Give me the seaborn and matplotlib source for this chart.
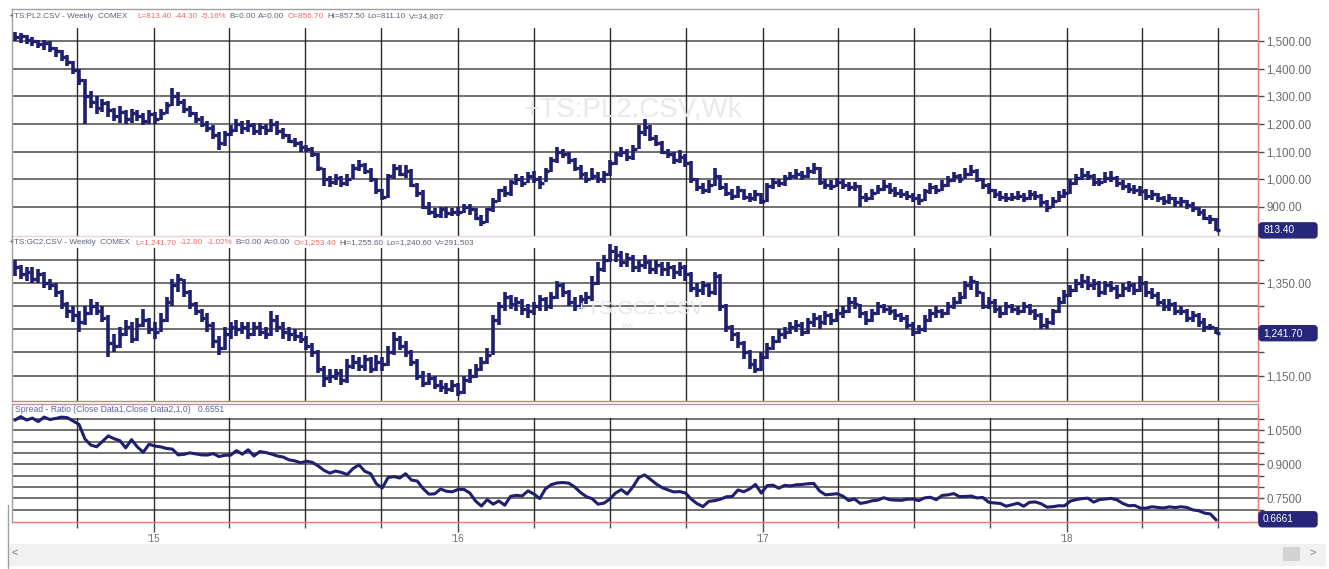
import numpy as np
import pandas as pd
import matplotlib
matplotlib.use("Agg")
import matplotlib.pyplot as plt
import matplotlib.dates as mdates
from matplotlib.patches import FancyBboxPatch, Rectangle
from matplotlib.lines import Line2D
from matplotlib.ticker import FixedLocator, FuncFormatter
import seaborn as sns

# ---------------- data (weekly bars) ----------------
first_week = "2014-07-18"

pl_close = [1515, 1520, 1505, 1500, 1490, 1495, 1475, 1465, 1445, 1425,
            1395, 1360, 1300, 1280, 1260, 1275, 1250, 1230, 1245, 1220,
            1240, 1230, 1210, 1235, 1220, 1240, 1270, 1300, 1280, 1255,
            1240, 1220, 1200, 1185, 1160, 1130, 1165, 1180, 1200, 1185,
            1195, 1175, 1190, 1180, 1200, 1175, 1160, 1140, 1130, 1115,
            1110, 1090, 1040, 1000, 990, 1005, 985, 1000, 1040, 1050,
            1030, 1000, 960, 935, 1010, 1040, 1020, 1030, 980, 950,
            900, 880, 870, 890, 875, 880, 880, 900, 890, 860,
            845, 890, 920, 960, 950, 990, 1000, 985, 1010, 1000,
            985, 1030, 1070, 1100, 1090, 1070, 1040, 1020, 1000, 1010,
            1000, 1020, 1060, 1090, 1100, 1080, 1110, 1170, 1190, 1150,
            1130, 1100, 1090, 1070, 1080, 1060, 1000, 970, 960, 980,
            1010, 970, 950, 940, 960, 935, 930, 945, 920, 975,
            990, 985, 1005, 1010, 1020, 1010, 1030, 1040, 990, 980,
            975, 990, 980, 970, 975, 935, 930, 950, 965, 975,
            960, 950, 945, 940, 930, 925, 955, 970, 960, 980,
            995, 1010, 1000, 1020, 1030, 1000, 980, 960, 945, 935,
            930, 935, 940, 930, 945, 940, 915, 900, 920, 940,
            950, 985, 1005, 1015, 1010, 990, 990, 1005, 1005, 985,
            975, 965, 960, 955, 940, 945, 930, 920, 930, 915,
            920, 905, 895, 880, 860, 855, 813.4]

pl_high = [1535, 1530, 1525, 1515, 1505, 1505, 1500, 1480, 1470, 1450,
           1430, 1400, 1365, 1320, 1300, 1290, 1285, 1260, 1265, 1250,
           1255, 1250, 1240, 1250, 1245, 1255, 1280, 1330, 1315, 1290,
           1265, 1245, 1230, 1210, 1195, 1170, 1175, 1195, 1220, 1210,
           1215, 1205, 1205, 1200, 1220, 1210, 1185, 1165, 1150, 1140,
           1125, 1115, 1095, 1040, 1010, 1020, 1010, 1020, 1055, 1070,
           1060, 1040, 1005, 965, 1020, 1055, 1050, 1050, 1035, 985,
           960, 915, 895, 900, 900, 895, 900, 910, 910, 895,
           870, 895, 930, 965, 975, 995, 1020, 1010, 1025, 1030,
           1010, 1040, 1080, 1115, 1110, 1100, 1075, 1050, 1025, 1040,
           1025, 1030, 1070, 1100, 1115, 1110, 1125, 1195, 1220, 1195,
           1160, 1140, 1110, 1100, 1105, 1090, 1065, 1005, 985, 995,
           1040, 1015, 985, 965, 975, 965, 950, 960, 950, 985,
           1005, 1000, 1015, 1025, 1035, 1030, 1045, 1060, 1045, 1000,
           995, 1005, 1000, 990, 990, 980, 950, 965, 980, 995,
           985, 970, 965, 955, 950, 945, 965, 985, 980, 995,
           1010, 1025, 1020, 1040, 1050, 1035, 1005, 985, 965, 955,
           950, 950, 955, 950, 960, 955, 945, 925, 935, 955,
           965, 1000, 1020, 1040, 1030, 1020, 1005, 1025, 1030, 1010,
           995, 985, 980, 975, 965, 960, 950, 940, 945, 935,
           935, 925, 915, 900, 890, 870, 857.5]

pl_low = [1500, 1495, 1490, 1485, 1475, 1470, 1460, 1445, 1430, 1410,
          1380, 1340, 1200, 1260, 1235, 1245, 1225, 1210, 1205, 1200,
          1205, 1210, 1195, 1200, 1200, 1215, 1235, 1265, 1265, 1240,
          1225, 1205, 1190, 1170, 1145, 1105, 1120, 1155, 1170, 1165,
          1170, 1160, 1160, 1160, 1170, 1160, 1145, 1130, 1115, 1100,
          1100, 1080, 1030, 975, 970, 980, 970, 975, 1000, 1030,
          1020, 990, 945, 925, 930, 1000, 1010, 1005, 970, 935,
          890, 870, 860, 860, 860, 865, 865, 875, 870, 850,
          830, 840, 880, 915, 935, 940, 980, 970, 985, 985,
          965, 990, 1025, 1060, 1075, 1055, 1030, 1000, 985, 995,
          985, 985, 1010, 1050, 1080, 1065, 1070, 1110, 1155, 1140,
          1120, 1090, 1075, 1055, 1060, 1045, 985, 955, 945, 950,
          975, 960, 940, 925, 930, 925, 915, 920, 910, 915,
          965, 970, 975, 995, 1000, 995, 1005, 1020, 980, 965,
          960, 970, 965, 955, 955, 900, 915, 925, 945, 955,
          945, 935, 930, 925, 915, 905, 920, 945, 945, 955,
          970, 990, 985, 1000, 1010, 990, 965, 945, 930, 920,
          915, 920, 925, 915, 925, 925, 900, 880, 895, 915,
          930, 945, 980, 995, 995, 975, 975, 985, 990, 970,
          960, 950, 945, 940, 925, 925, 915, 905, 910, 900,
          900, 890, 880, 865, 850, 835, 811.1]

gc_close = [1385, 1370, 1375, 1360, 1370, 1350, 1345, 1330, 1305, 1290,
            1280, 1265, 1285, 1300, 1290, 1275, 1220, 1215, 1240, 1255,
            1230, 1260, 1270, 1250, 1245, 1270, 1310, 1345, 1360, 1330,
            1305, 1290, 1275, 1260, 1225, 1210, 1240, 1255, 1250, 1255,
            1240, 1255, 1245, 1240, 1270, 1255, 1245, 1240, 1235, 1230,
            1215, 1200, 1165, 1145, 1150, 1155, 1140, 1170, 1180, 1170,
            1185, 1165, 1180, 1175, 1200, 1230, 1215, 1200, 1180, 1150,
            1135, 1145, 1130, 1125, 1120, 1130, 1115, 1140, 1150, 1165,
            1180, 1195, 1270, 1300, 1320, 1305, 1310, 1295, 1290, 1300,
            1315, 1300, 1320, 1345, 1330, 1310, 1300, 1315, 1320, 1350,
            1380, 1400, 1420, 1410, 1395, 1405, 1385, 1390, 1395, 1380,
            1390, 1380, 1385, 1375, 1385, 1370, 1340, 1335, 1345, 1330,
            1365, 1300, 1255, 1240, 1220, 1200, 1175, 1165, 1190, 1210,
            1225, 1240, 1245, 1255, 1260, 1245, 1265, 1275, 1265, 1280,
            1270, 1285, 1290, 1310, 1305, 1285, 1270, 1285, 1300, 1295,
            1290, 1280, 1275, 1260, 1245, 1250, 1270, 1285, 1290, 1285,
            1300, 1310, 1320, 1345, 1355, 1330, 1300, 1310, 1295, 1285,
            1300, 1295, 1290, 1300, 1290, 1280, 1260, 1265, 1290, 1310,
            1325, 1335, 1350, 1355, 1345, 1350, 1330, 1345, 1340, 1325,
            1340, 1345, 1335, 1350, 1330, 1325, 1310, 1300, 1305, 1290,
            1290, 1275, 1280, 1265, 1255, 1254.5, 1241.7]

gc_high = [1400, 1390, 1385, 1385, 1380, 1375, 1360, 1350, 1335, 1310,
           1300, 1290, 1300, 1315, 1310, 1300, 1280, 1240, 1255, 1270,
           1265, 1275, 1295, 1275, 1265, 1285, 1320, 1360, 1370, 1360,
           1335, 1310, 1295, 1285, 1265, 1235, 1255, 1265, 1270, 1265,
           1265, 1265, 1265, 1255, 1290, 1280, 1265, 1255, 1250, 1245,
           1235, 1220, 1205, 1170, 1165, 1165, 1165, 1185, 1195, 1190,
           1195, 1190, 1195, 1190, 1215, 1245, 1235, 1225, 1205, 1185,
           1160, 1155, 1150, 1140, 1135, 1140, 1135, 1150, 1165, 1175,
           1190, 1210, 1280, 1310, 1330, 1325, 1320, 1315, 1305, 1310,
           1325, 1320, 1330, 1355, 1350, 1335, 1320, 1325, 1330, 1365,
           1395, 1410, 1435, 1430, 1420, 1415, 1410, 1400, 1410, 1400,
           1400, 1395, 1395, 1390, 1395, 1390, 1375, 1350, 1355, 1350,
           1375, 1370, 1305, 1260, 1245, 1225, 1205, 1185, 1200, 1220,
           1235, 1250, 1255, 1265, 1270, 1265, 1275, 1285, 1280, 1290,
           1285, 1295, 1300, 1320, 1320, 1305, 1290, 1295, 1310, 1305,
           1300, 1295, 1285, 1280, 1265, 1260, 1280, 1295, 1300, 1295,
           1310, 1320, 1330, 1355, 1365, 1355, 1330, 1320, 1315, 1300,
           1310, 1305, 1300, 1310, 1305, 1295, 1285, 1275, 1295, 1320,
           1335, 1345, 1360, 1370, 1365, 1360, 1355, 1355, 1355, 1345,
           1350, 1355, 1350, 1365, 1355, 1340, 1330, 1315, 1315, 1310,
           1300, 1295, 1290, 1285, 1275, 1262, 1255.6]

gc_low = [1365, 1360, 1355, 1350, 1350, 1340, 1335, 1320, 1295, 1275,
          1265, 1245, 1260, 1280, 1280, 1265, 1190, 1200, 1210, 1235,
          1220, 1225, 1255, 1240, 1230, 1245, 1265, 1300, 1330, 1320,
          1295, 1280, 1265, 1245, 1210, 1195, 1205, 1230, 1235, 1240,
          1230, 1235, 1235, 1230, 1235, 1245, 1230, 1225, 1225, 1220,
          1205, 1190, 1155, 1125, 1135, 1140, 1130, 1135, 1165, 1160,
          1160, 1155, 1160, 1160, 1170, 1195, 1205, 1190, 1170, 1140,
          1125, 1130, 1120, 1115, 1110, 1115, 1105, 1110, 1135, 1145,
          1160, 1175, 1195, 1260, 1290, 1295, 1290, 1280, 1275, 1280,
          1290, 1290, 1295, 1315, 1320, 1300, 1290, 1295, 1305, 1310,
          1345, 1375, 1395, 1395, 1385, 1385, 1375, 1375, 1380, 1370,
          1370, 1365, 1365, 1360, 1365, 1355, 1330, 1320, 1325, 1320,
          1325, 1290, 1245, 1225, 1210, 1185, 1165, 1155, 1160, 1185,
          1205, 1220, 1230, 1240, 1245, 1235, 1240, 1255, 1250, 1260,
          1260, 1265, 1275, 1285, 1295, 1275, 1260, 1265, 1280, 1285,
          1280, 1270, 1265, 1250, 1235, 1240, 1245, 1265, 1275, 1275,
          1280, 1295, 1305, 1315, 1335, 1320, 1295, 1295, 1285, 1275,
          1280, 1285, 1280, 1285, 1280, 1270, 1250, 1250, 1260, 1285,
          1305, 1320, 1330, 1340, 1335, 1335, 1320, 1325, 1330, 1315,
          1320, 1330, 1325, 1330, 1320, 1315, 1300, 1290, 1290, 1280,
          1280, 1265, 1265, 1255, 1245, 1248, 1240.6]

pl_title = [("+TS:PL2.CSV - Weekly  COMEX", 9, "g"), ("L=813.40", 137, "r"),
            ("-44.30", 170, "r"), ("-5.16%", 190, "r"), ("B=0.00", 212, "g"),
            ("A=0.00", 237, "g"), ("O=856.70", 268, "r"), ("Hi=857.50", 307, "g"),
            ("Lo=811.10", 348, "g"), ("V=34,807", 388, "g")]
gc_title = [("+TS:GC2.CSV - Weekly  COMEX", 9, "g"), ("L=1,241.70", 135, "r"),
            ("-12.80", 180, "r"), ("-1.02%", 202, "r"), ("B=0.00", 225, "g"),
            ("A=0.00", 250, "g"), ("O=1,253.40", 285, "r"), ("Hi=1,255.60", 330, "g"),
            ("Lo=1,240.60", 378, "g"), ("V=291,503", 432, "g")]
spread_title = "Spread - Ratio (Close Data1,Close Data2,1,0)   0.6551"

pl_ticks = [900, 1000, 1100, 1200, 1300, 1400, 1500]
gc_grid = [1150, 1200, 1250, 1300, 1350, 1400]
gc_labels = [1150, 1350]
ratio_grid = [0.70, 0.75, 0.80, 0.85, 0.90, 0.95, 1.00, 1.05, 1.10]
ratio_labels = [0.75, 0.90, 1.05]
year_ticks = ["2015-01-01", "2016-01-01", "2017-01-01", "2018-01-01"]
year_labels = ["'15", "'16", "'17", "'18"]

# ---------------- frame ----------------
W, H = 1329, 569
sns.set_theme(style="white")
plt.rcParams["font.family"] = ["Liberation Sans", "DejaVu Sans"]

TFS = 5.9
NAVY = "#1f1f6e"
GRIDC = "#4a4a4a"
VGRID = "#2a2a2a"
RED = "#e07a7a"
TXT = "#5d6275"
TRED = "#e36a6a"

weeks = pd.date_range(first_week, periods=len(pl_close), freq="W-FRI")
xw = mdates.date2num(weeks)
ratio = np.array(pl_close) / np.array(gc_close)
df = pd.DataFrame({"week": weeks, "ratio": ratio})

fig = plt.figure(figsize=(W / 100, H / 100), dpi=100)
fig.patch.set_facecolor("white")
renderer = fig.canvas.get_renderer()


def fax(top, bot):
    return fig.add_axes([12 / W, 1 - bot / H, (1258 - 12) / W, (bot - top) / H])


ax1 = fax(9, 236)
ax2 = fax(236, 401)
ax3 = fax(404, 522)

x0 = mdates.date2num(pd.Timestamp("2015-01-01")) - 170.5
x1 = mdates.date2num(pd.Timestamp("2018-01-01")) + 229.3
quarters = mdates.date2num(pd.date_range("2014-10-01", "2018-07-01", freq="QS"))

ax1.set_ylim(793, 1618)
ax2.set_ylim(1095, 1452)
ax3.set_ylim(0.646, 1.165)

vtop = {ax1: 0.916, ax2: 0.927, ax3: 0.88}
for ax in (ax1, ax2, ax3):
    ax.set_xlim(x0, x1)
    ax.set_facecolor("white")
    for q in quarters:
        ax.axvline(q, ymin=0, ymax=vtop[ax], color=VGRID, lw=1.0, zorder=1)
    ax.yaxis.tick_right()
    ax.yaxis.set_label_position("right")
    ax.tick_params(axis="y", which="both", length=4, width=1, color=GRIDC,
                   pad=2, labelsize=8.3, labelcolor="#6a6a6a", right=True, left=False)
    ax.yaxis.grid(True, color=GRIDC, lw=1.1, zorder=1)
    ax.xaxis.grid(False)
    for s in ("left", "top"):
        ax.spines[s].set_color("#a0a0a0")
        ax.spines[s].set_linewidth(1)
    ax.spines["right"].set_color(RED)
    ax.spines["right"].set_linewidth(1)
    ax.spines["bottom"].set_color(RED)
    ax.spines["bottom"].set_linewidth(1)
ax2.spines["top"].set_visible(False)
ax1.spines["bottom"].set_color("#f0d0d0")

# y ticks
ax1.yaxis.set_major_locator(FixedLocator(pl_ticks))
ax1.yaxis.set_major_formatter(FuncFormatter(lambda v, p: f"{v:,.2f}"))
ax2.yaxis.set_major_locator(FixedLocator(gc_grid))
ax2.yaxis.set_major_formatter(FuncFormatter(
    lambda v, p: f"{v:,.2f}" if any(abs(v - l) < 1e-6 for l in gc_labels) else ""))
ax3.yaxis.set_major_locator(FixedLocator(ratio_grid))
ax3.yaxis.set_major_formatter(FuncFormatter(
    lambda v, p: f"{v:.4f}" if any(abs(v - l) < 1e-6 for l in ratio_labels) else ""))

# x ticks
for ax in (ax1, ax2):
    ax.set_xticks([])
ax3.set_xticks(mdates.date2num(pd.to_datetime(year_ticks)))
ax3.set_xticklabels(year_labels)
ax3.set_xticks(quarters, minor=True)
ax3.tick_params(axis="x", which="major", length=7, width=1, color=GRIDC, pad=2,
                labelsize=7, labelcolor="#6a6a6a", bottom=True)
ax3.tick_params(axis="x", which="minor", length=4, width=1, color=GRIDC, bottom=True)

# watermarks
fig.text(633 / W, 1 - 110 / H, "+TS:PL2.CSV,Wk", fontsize=20, color="#e9e9ed",
         ha="center", va="center", zorder=0)
fig.text(640 / W, 1 - 309 / H, "+TS:GC2.CSV", fontsize=14, color="#e6e6ea",
         ha="center", va="center", zorder=0)
fig.text(628 / W, 1 - 326 / H, "Wk", fontsize=6, color="#e6e6ea",
         ha="center", va="center", zorder=0)
for ax in (ax1, ax2, ax3):
    ax.patch.set_alpha(0)


# weekly bars: high-low line with a close tick
def bars(ax, high, low, close):
    ax.vlines(xw, low, high, color=NAVY, lw=2.6, zorder=4)
    ax.hlines(close, xw - 0.5, xw + 4.6, color=NAVY, lw=2.4, zorder=4)


bars(ax1, pl_high, pl_low, pl_close)
bars(ax2, gc_high, gc_low, gc_close)

sns.lineplot(data=df, x="week", y="ratio", ax=ax3, color=NAVY, lw=2.2, zorder=4)
ax3.set_xlim(x0, x1)
for ax in (ax1, ax2, ax3):
    ax.set_xlabel("")
    ax.set_ylabel("")


# titles (pieces start at their place in the reference, never overlapping)
def title_row(pieces, y):
    prev_end = 0
    for s, x, c in pieces:
        xs = max(x, prev_end + 3)
        t = fig.text(xs / W, 1 - y / H, s, fontsize=TFS,
                     color=TXT if c == "g" else TRED, ha="left", va="center", zorder=6)
        prev_end = t.get_window_extent(renderer).x1


title_row(pl_title, 17)
title_row(gc_title, 243)
fig.text(15 / W, 1 - 410 / H, spread_title, fontsize=6.2,
         color="#5a66a0", ha="left", va="center", zorder=6)


# last-value badges
def badge(ax, value, label):
    ypx = ax.transData.transform((x0, value))[1]
    fig.patches.append(FancyBboxPatch((1259, ypx - 7.5), 58, 15,
                                      boxstyle="round,pad=0,rounding_size=3",
                                      transform=None, facecolor="#26267a",
                                      edgecolor="#26267a", zorder=7))
    fig.text(1263 / W, ypx / H, label, fontsize=7.3, color="white",
             ha="left", va="center", zorder=8)


badge(ax1, pl_close[-1], "813.40")
badge(ax2, gc_close[-1], "1,241.70")
badge(ax3, 0.6580, "0.6661")

# scroll bar
fig.patches.append(Rectangle((8, H - 566), 1318, 22, transform=None,
                             facecolor="#f1f1f1", edgecolor="none", zorder=0))
fig.patches.append(Rectangle((1283, H - 561), 17, 14, transform=None,
                             facecolor="#d2d2d2", edgecolor="none", zorder=1))
fig.lines.append(Line2D([8, 8], [H - 505, H - 568], transform=None,
                        color="#a0a0a0", lw=1))
fig.text(15 / W, 1 - 553 / H, "<", fontsize=8, color="#777777", ha="center", va="center")
fig.text(1313 / W, 1 - 553 / H, ">", fontsize=8, color="#777777", ha="center", va="center")

fig.savefig("out.png", dpi=100, facecolor="white")
